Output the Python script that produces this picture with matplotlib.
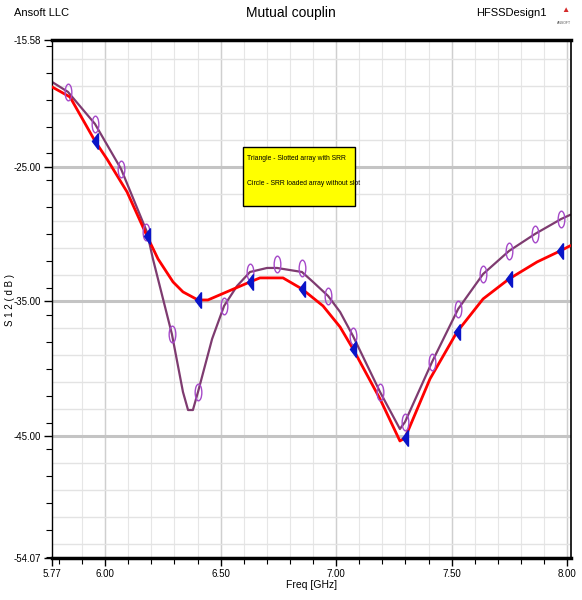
import matplotlib.pyplot as plt
from matplotlib.markers import MarkerStyle
from matplotlib.transforms import Affine2D
from matplotlib.ticker import MultipleLocator
from matplotlib.patches import Rectangle

plt.rcParams['font.family'] = ['Liberation Sans', 'DejaVu Sans']

# Curva roja: arreglo ranurado con SRR (triangulos)
freq_ranura = [5.770, 5.848, 5.956, 6.008, 6.095, 6.181, 6.229, 6.294, 6.337, 6.402,
               6.445, 6.506, 6.627, 6.670, 6.770, 6.852, 6.943, 7.017, 7.073, 7.190,
               7.276, 7.298, 7.406, 7.523, 7.636, 7.748, 7.870, 7.969, 8.012]
s12_ranura = [-19.05, -19.80, -23.07, -24.41, -26.86, -30.13, -31.84, -33.55, -34.29, -34.89,
              -34.89, -34.44, -33.55, -33.25, -33.25, -34.07, -35.33, -36.90, -38.53, -42.25,
              -45.37, -45.15, -40.76, -37.27, -34.81, -33.33, -32.06, -31.25, -30.87]

# Curva morada: arreglo cargado con SRR sin ranura (circulos)
freq_sin_ranura = [5.770, 5.839, 5.956, 6.069, 6.181, 6.207, 6.289, 6.337, 6.359, 6.380,
                   6.402, 6.463, 6.515, 6.571, 6.627, 6.701, 6.744, 6.852, 6.900, 6.965,
                   7.017, 7.073, 7.190, 7.276, 7.298, 7.415, 7.528, 7.636, 7.748, 7.861,
                   7.974, 8.012]
s12_sin_ranura = [-18.68, -19.42, -21.80, -25.15, -29.83, -31.84, -37.42, -41.73, -43.07, -43.07,
                  -41.73, -37.79, -35.33, -33.85, -32.81, -32.51, -32.51, -32.81, -33.55, -34.59,
                  -35.78, -37.57, -41.73, -44.48, -43.96, -39.50, -35.56, -32.96, -31.25, -29.98,
                  -28.87, -28.57]

# Marcadores
tri_freq = [5.956, 6.181, 6.402, 6.627, 6.852, 7.073, 7.298, 7.523, 7.748, 7.969]
tri_s12 = [-23.07, -30.13, -34.89, -33.55, -34.07, -38.53, -45.15, -37.27, -33.33, -31.25]

circ_freq = [5.839, 5.956, 6.069, 6.177, 6.289, 6.402, 6.515, 6.627, 6.744, 6.852,
             6.965, 7.073, 7.190, 7.298, 7.415, 7.528, 7.636, 7.748, 7.861, 7.974]
circ_s12 = [-19.42, -21.80, -25.15, -29.83, -37.42, -41.73, -35.33, -32.81, -32.21, -32.51,
            -34.59, -37.57, -41.73, -43.96, -39.50, -35.56, -32.96, -31.25, -29.98, -28.87]

xticks = [5.77, 6.00, 6.50, 7.00, 7.50, 8.00]
xtick_labels = ['5.77', '6.00', '6.50', '7.00', '7.50', '8.00']
yticks = [-15.58, -25.00, -35.00, -45.00, -54.07]
ytick_labels = ['-15.58', '-25.00', '-35.00', '-45.00', '-54.07']

fig = plt.figure(figsize=(5.82, 6.0), dpi=100)
ax = fig.add_axes([0.0893, 0.07, 0.892, 0.863])

# Rejilla
for f in [5.9 + 0.1 * i for i in range(22)]:
    ax.axvline(f, color='#e6e6e6', lw=0.8, zorder=0)
for f in [6.0, 6.5, 7.0, 7.5, 8.0]:
    ax.axvline(f, color='#cfcfcf', lw=1.0, zorder=0)
for v in range(-53, -15, 2):
    ax.axhline(v, color='#e3e3e3', lw=1.0, zorder=0)
for v in [-25, -35, -45]:
    ax.axhline(v, color='#c4c4c4', lw=2.2, zorder=0)

ax.plot(freq_sin_ranura, s12_sin_ranura, color='#7e3b70', lw=1.6, zorder=2)
ax.plot(freq_ranura, s12_ranura, color='#ff0000', lw=2.0, zorder=3)

tri = MarkerStyle('<', transform=Affine2D().scale(0.45, 1.0))
ax.plot(tri_freq, tri_s12, linestyle='none', marker=tri, markersize=11,
        color='#0a14c8', zorder=5)
circ = MarkerStyle('o', transform=Affine2D().scale(0.4, 1.0))
ax.plot(circ_freq, circ_s12, linestyle='none', marker=circ, markersize=12,
        markerfacecolor='none', markeredgecolor='#a64ac9', markeredgewidth=1.0, zorder=4)

ax.set_xlim(5.77, 8.017)
ax.set_ylim(-54.07, -15.58)
ax.set_xticks(xticks)
ax.set_xticklabels(xtick_labels)
ax.set_yticks(yticks)
ax.set_yticklabels(ytick_labels)
ax.xaxis.set_minor_locator(MultipleLocator(0.1))
ax.yaxis.set_minor_locator(MultipleLocator(2))
ax.tick_params(axis='both', which='major', labelsize=7, length=6, width=1,
               direction='out', color='black', pad=2)
ax.tick_params(axis='both', which='minor', length=4, width=0.8, direction='out')

for lado in ['top', 'bottom']:
    ax.spines[lado].set_linewidth(2.5)
ax.spines['left'].set_linewidth(1.0)
ax.spines['right'].set_linewidth(1.2)

ax.set_xlabel('Freq [GHz]', fontsize=7.5, labelpad=1)
fig.text(0.017, 0.5, 'S 1 2 ( d B )', fontsize=7, rotation=90, ha='center', va='center')

fig.text(0.024, 0.978, 'Ansoft LLC', fontsize=8, ha='left', va='center')
fig.text(0.5, 0.978, 'Mutual couplin', fontsize=10, ha='center', va='center')
fig.text(0.94, 0.978, 'HFSSDesign1', fontsize=8, ha='right', va='center')
fig.text(0.957, 0.962, 'ANSOFT', fontsize=2.5, color='#555555', ha='left', va='center')
fig.text(0.965, 0.982, '\u25b2', fontsize=6, color='#d42a2a', ha='left', va='center')

# Cuadro de leyenda amarillo
ax.add_patch(Rectangle((6.597, -27.90), 0.485, 4.39, facecolor='#ffff00',
                       edgecolor='black', lw=1.0, zorder=6))
ax.text(6.615, -24.41, 'Triangle - Slotted array with SRR', fontsize=4.9,
        ha='left', va='center', zorder=7)
ax.text(6.615, -26.26, 'Circle - SRR loaded array without slot', fontsize=4.9,
        ha='left', va='center', zorder=7)

fig.savefig('out.png', dpi=100)
